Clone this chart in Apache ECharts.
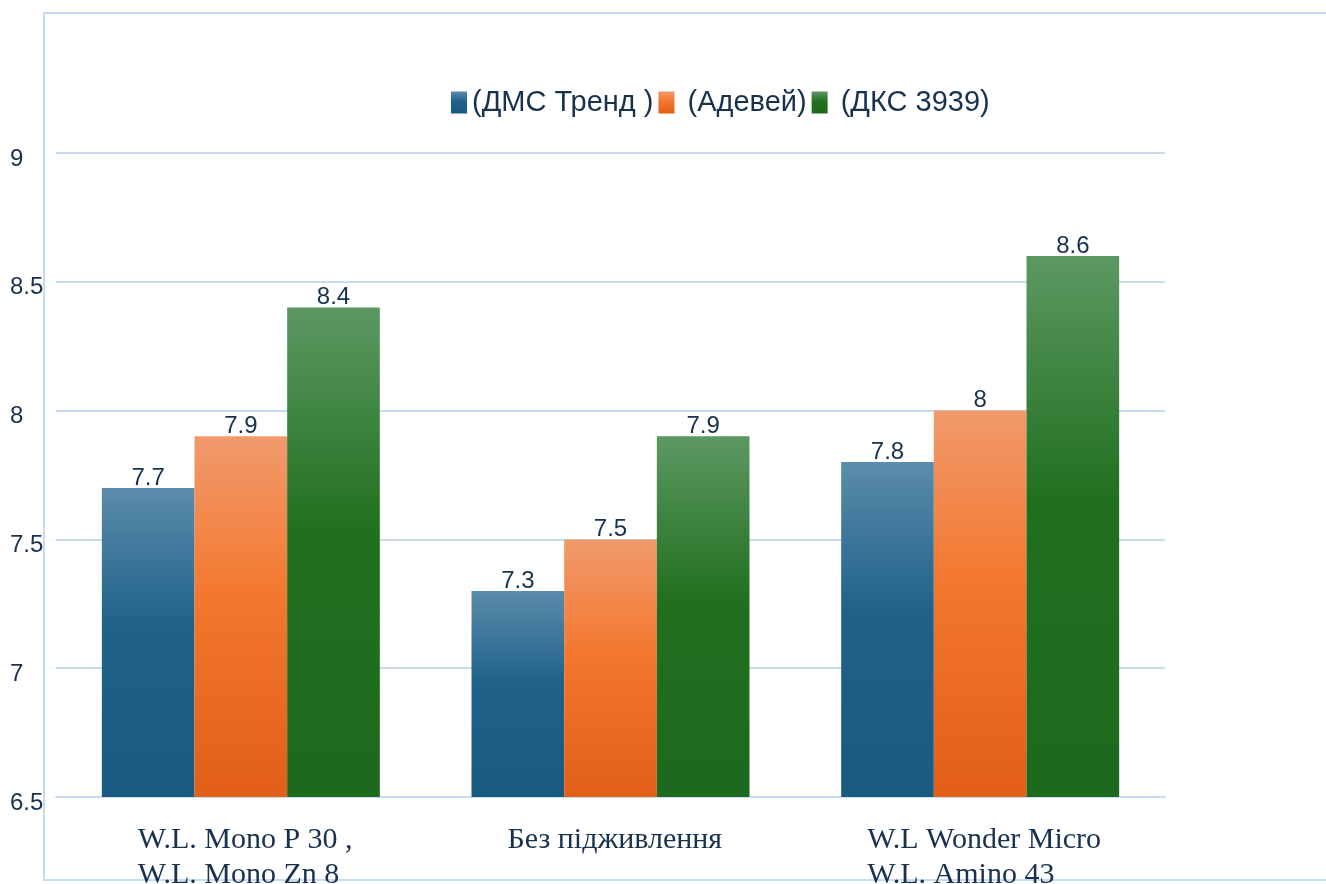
<!DOCTYPE html>
<html>
<head>
<meta charset="utf-8">
<script src="https://cdn.jsdelivr.net/npm/echarts@6/dist/echarts.min.js"></script>
<style>html,body{margin:0;padding:0;background:#fff}#c{width:1326px;height:884px}</style>
</head>
<body>
<div id="c"></div>
<script>
var categories = ["W.L. Mono P 30 ,\nW.L. Mono Zn 8", "Без підживлення", "W.L Wonder Micro\nW.L. Amino 43"];
var seriesNames = ["(ДМС Тренд )", " (Адевей)", " (ДКС 3939)"];
var dmsTrend = [7.7, 7.3, 7.8];
var adevei = [7.9, 7.5, 8.0];
var dks3939 = [8.4, 7.9, 8.6];
var yTicks = { min: 6.5, max: 9, interval: 0.5 };

function grad(c0, c1, c2) {
  return new echarts.graphic.LinearGradient(0, 0, 0, 1, [
    { offset: 0, color: c0 }, { offset: 0.45, color: c1 }, { offset: 1, color: c2 }
  ]);
}
var textColor = '#17314f';
var gridColor = '#c9dbf1';
var labelCfg = {
  show: true, position: 'top', distance: -2,
  fontFamily: 'Liberation Sans, Arial, sans-serif', fontSize: 24, color: textColor
};
var serif = 'Liberation Serif, Times New Roman, serif';

var chart = echarts.init(document.getElementById('c'), null, { renderer: 'canvas' });
chart.setOption({
  animation: false,
  backgroundColor: '#ffffff',
  graphic: [{
    type: 'rect', z: -10, silent: true,
    shape: { x: 44, y: 13, width: 1300, height: 867 },
    style: { fill: 'none', stroke: gridColor, lineWidth: 2 }
  }],
  legend: {
    left: 446, top: 83,
    icon: 'rect',
    itemWidth: 16, itemHeight: 22, itemGap: 5,
    textStyle: { fontFamily: 'Liberation Sans, Arial, sans-serif', fontSize: 29, color: textColor },
    data: seriesNames
  },
  grid: { left: 56, right: 161, top: 153, bottom: 87, containLabel: false, outerBoundsMode: 'none' },
  xAxis: {
    type: 'category', data: categories,
    axisLine: { show: true, lineStyle: { color: gridColor, width: 2 } },
    axisTick: { show: false },
    axisLabel: {
      margin: 26, interval: 0,
      formatter: function (v, i) {
        return v.split('\n').map(function (s) { return '{l' + i + '|' + s + '}'; }).join('\n');
      },
      rich: {
        l0: { width: 218, padding: [0, 0, 0, 12], align: 'left', fontFamily: serif, fontSize: 30, color: textColor, lineHeight: 35 },
        l1: { width: 210, padding: [0, 0, 0, 4], align: 'left', fontFamily: serif, fontSize: 30, color: textColor, lineHeight: 35 },
        l2: { width: 226, align: 'left', fontFamily: serif, fontSize: 30, color: textColor, lineHeight: 35 }
      }
    }
  },
  yAxis: {
    type: 'value', min: yTicks.min, max: yTicks.max, interval: yTicks.interval,
    axisLine: { show: false }, axisTick: { show: false },
    splitLine: { show: true, lineStyle: { color: gridColor, width: 2 } },
    axisLabel: {
      align: 'left', margin: 46,
      formatter: function (v) { return '{a|' + v + '}'; },
      rich: { a: { padding: [12, 0, 0, 0], fontFamily: 'Liberation Sans, Arial, sans-serif', fontSize: 24, color: textColor } }
    }
  },
  series: [
    { name: seriesNames[0], type: 'bar', data: dmsTrend, barGap: '0%', barCategoryGap: '24.8%',
      itemStyle: { color: grad('#5b8cab', '#1f6189', '#195a80') }, label: labelCfg },
    { name: seriesNames[1], type: 'bar', data: adevei, barGap: '0%', barCategoryGap: '24.8%',
      itemStyle: { color: grad('#f19a6c', '#f3772d', '#e25e19') }, label: labelCfg },
    { name: seriesNames[2], type: 'bar', data: dks3939, barGap: '0%', barCategoryGap: '24.8%',
      itemStyle: { color: grad('#5c9862', '#21701f', '#1d691e') }, label: labelCfg }
  ]
});
</script>
</body>
</html>
